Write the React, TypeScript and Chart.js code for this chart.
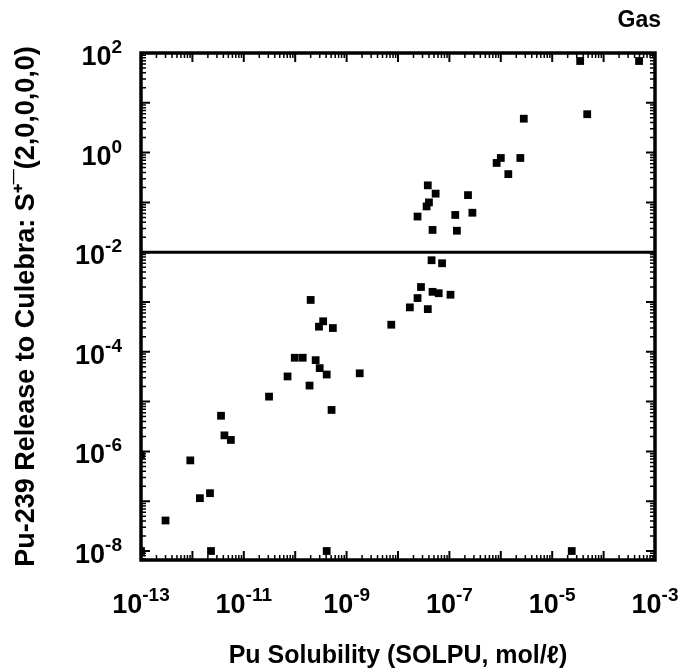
import React, { useEffect, useRef } from "react";
import { Chart, registerables } from "chart.js";

Chart.register(...registerables);

// Pu solubility (mol/l) of each sampled vector
const solubility = [
  3.5e-5, 4.9e-4, 4.8e-5, 2.8e-6, 1.0e-6, 8.3e-7, 2.4e-6, 1.4e-6,
  3.8e-8, 5.4e-8, 4.0e-8, 3.6e-8, 2.4e-8, 2.3e-7, 1.3e-7, 2.8e-7,
  4.7e-8, 1.4e-7, 4.5e-8, 7.2e-8, 2.8e-8, 4.7e-8, 6.2e-8, 1.05e-7,
  2.4e-8, 2.0e-10, 1.7e-8, 3.8e-8, 7.4e-9, 2.9e-10, 3.5e-10, 5.4e-10,
  9.8e-11, 1.4e-10, 2.5e-10, 3.0e-10, 4.1e-10, 7.1e-11, 1.8e-9, 1.9e-10,
  3.1e-11, 5.1e-10, 3.6e-12, 4.2e-12, 5.6e-12, 9.1e-13, 1.4e-12, 2.2e-12,
  3.0e-13, 1.0e-13, 1.0e-13, 2.3e-12, 4.1e-10, 2.4e-5,
];

// Pu-239 release to Culebra, S+(2,0,0,0,0)
const release = [
  69, 69, 5.9, 4.8, 0.78, 0.62, 0.78, 0.37,
  0.22, 0.15, 0.1, 0.083, 0.052, 0.14, 0.056, 0.062,
  0.028, 0.027, 0.0069, 0.006, 0.002, 0.0016, 0.0015, 0.0014,
  0.0012, 0.0011, 7.8e-4, 7.2e-4, 3.5e-4, 3.2e-4, 4.1e-4, 3.0e-4,
  7.6e-5, 7.6e-5, 6.8e-5, 4.7e-5, 3.5e-5, 3.2e-5, 3.7e-5, 2.1e-5,
  1.26e-5, 6.8e-6, 5.2e-6, 2.1e-6, 1.7e-6, 6.6e-7, 1.15e-7, 1.45e-7,
  4.1e-8, 1.0e-8, 8.5e-7, 1.0e-8, 1.0e-8, 1.0e-8,
];

// Horizontal reference line at S = 1e-2
const thresholdX = [1e-13, 1e-3];
const thresholdY = [1e-2, 1e-2];

const xTickExponents = ["-13", "-11", "-9", "-7", "-5", "-3"];
const yTickExponents = ["-8", "-6", "-4", "-2", "0", "2"];

const xMin = 1e-13;
const xMax = 1e-3;
const yMin = 6.6e-9;
const yMax = 100;

const chartTitle = "Gas";
const xTitle = "Pu Solubility (SOLPU, mol/\u2113)";
const yTitle = "Pu-239 Release to Culebra: S\u207A\u00AF(2,0,0,0,0)";

const FONT = "'Liberation Sans', Arial, Helvetica, sans-serif";

const framePlugin = {
  id: "frameTicks",
  afterDraw(chart: any) {
    const { ctx, chartArea } = chart;
    const { left, right, top, bottom } = chartArea;
    const xs = chart.scales.x;
    const ys = chart.scales.y;
    ctx.save();
    ctx.strokeStyle = "#000";
    ctx.fillStyle = "#000";

    // inward ticks, log minor ticks
    for (let d = -14; d <= 3; d++) {
      for (let m = 1; m <= 9; m++) {
        const v = m * Math.pow(10, d);
        if (v >= xMin * 0.999 && v <= xMax * 1.001) {
          const px = xs.getPixelForValue(v);
          const len = m === 1 ? 9 : 5;
          ctx.lineWidth = m === 1 ? 2 : 1.5;
          ctx.beginPath();
          ctx.moveTo(px, bottom);
          ctx.lineTo(px, bottom - len);
          ctx.moveTo(px, top);
          ctx.lineTo(px, top + len);
          ctx.stroke();
        }
        if (v >= yMin && v <= yMax * 1.001) {
          const py = ys.getPixelForValue(v);
          const len = m === 1 ? 9 : 5;
          ctx.lineWidth = m === 1 ? 2 : 1.5;
          ctx.beginPath();
          ctx.moveTo(left, py);
          ctx.lineTo(left + len, py);
          ctx.moveTo(right, py);
          ctx.lineTo(right - len, py);
          ctx.stroke();
        }
      }
    }

    // frame
    ctx.lineWidth = 3.5;
    ctx.strokeRect(left, top, right - left, bottom - top);

    const baseFont = `bold 27px ${FONT}`;
    const expFont = `bold 19px ${FONT}`;
    ctx.textBaseline = "alphabetic";

    // x tick labels
    xTickExponents.forEach((e) => {
      const v = Math.pow(10, Number(e));
      const px = xs.getPixelForValue(v);
      ctx.font = baseFont;
      const wb = ctx.measureText("10").width;
      ctx.font = expFont;
      const we = ctx.measureText(e).width;
      const start = px - (wb + we) / 2;
      const base = bottom + 53;
      ctx.textAlign = "left";
      ctx.font = baseFont;
      ctx.fillText("10", start, base);
      ctx.font = expFont;
      ctx.fillText(e, start + wb, base - 12);
    });

    // y tick labels
    yTickExponents.forEach((e) => {
      const v = Math.pow(10, Number(e));
      const py = ys.getPixelForValue(v);
      const rightEdge = left - 19;
      ctx.font = expFont;
      const we = ctx.measureText(e).width;
      const base = py + 12;
      ctx.textAlign = "right";
      ctx.fillText(e, rightEdge, base - 12);
      ctx.font = baseFont;
      ctx.fillText("10", rightEdge - we, base);
    });

    // corner title
    ctx.font = `bold 23px ${FONT}`;
    ctx.textAlign = "right";
    ctx.fillText(chartTitle, right + 6, 27);
    ctx.restore();
  },
};

export default function App() {
  const canvasRef = useRef<HTMLCanvasElement | null>(null);

  useEffect(() => {
    const canvas = canvasRef.current;
    if (!canvas) return;
    const points = solubility.map((x, i) => ({ x, y: release[i] }));
    const line = thresholdX.map((x, i) => ({ x, y: thresholdY[i] }));
    const chart = new Chart(canvas, {
      type: "scatter",
      data: {
        datasets: [
          {
            data: points,
            pointStyle: "rect",
            pointRadius: 5.5,
            pointBorderWidth: 0,
            backgroundColor: "#000",
            borderColor: "#000",
          },
          {
            data: line,
            showLine: true,
            borderColor: "#000",
            borderWidth: 3,
            pointRadius: 0,
          } as any,
        ],
      },
      options: {
        animation: false,
        responsive: false,
        devicePixelRatio: 1,
        layout: { padding: { top: 53, right: 25, left: 0, bottom: 0 } },
        plugins: {
          legend: { display: false },
          tooltip: { enabled: false },
        },
        scales: {
          x: {
            type: "logarithmic",
            min: xMin,
            max: xMax,
            grid: { display: false, drawTicks: false },
            border: { display: false },
            ticks: { display: false },
            title: {
              display: true,
              text: xTitle,
              color: "#000",
              font: { family: FONT, size: 25, weight: "bold" },
              padding: { top: 0, bottom: 1 },
            },
            afterFit: (s: any) => {
              s.height = 112;
            },
          },
          y: {
            type: "logarithmic",
            min: yMin,
            max: yMax,
            grid: { display: false, drawTicks: false },
            border: { display: false },
            ticks: { display: false },
            title: {
              display: true,
              text: yTitle,
              color: "#000",
              font: { family: FONT, size: 27, weight: "bold" },
              padding: { top: 10, bottom: 0 },
            },
            afterFit: (s: any) => {
              s.width = 141;
            },
          },
        },
      },
      plugins: [framePlugin],
    } as any);
    return () => chart.destroy();
  }, []);

  return (
    <div style={{ position: "absolute", left: 0, top: 0, width: 680, height: 672, background: "#fff" }}>
      <canvas ref={canvasRef} width={680} height={672} />
    </div>
  );
}
